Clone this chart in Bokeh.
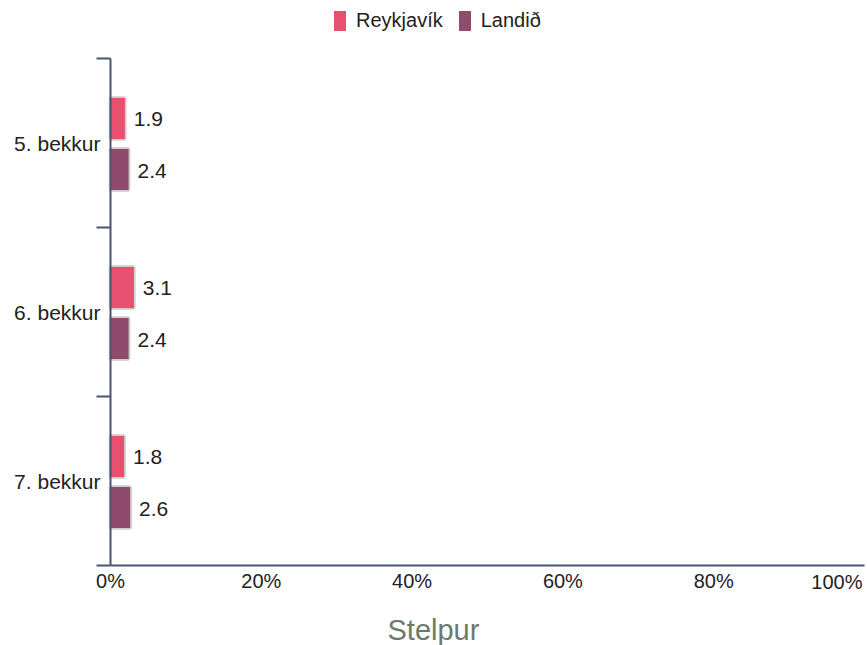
from bokeh.plotting import figure
from bokeh.models import (ColumnDataSource, FixedTicker, Range1d, Legend, LegendItem,
                          LabelSet, Label, Title)
from bokeh.core.properties import value
from bokeh.embed import file_html
from bokeh.resources import INLINE

categories = ["5. bekkur", "6. bekkur", "7. bekkur"]
reykjavik = [1.9, 3.1, 1.8]
landid = [2.4, 2.4, 2.6]
x_ticks = [0, 20, 40, 60, 80, 100]
x_tick_labels = ["0%", "20%", "40%", "60%", "80%", "100%"]
series_names = ["Reykjavík", "Landið"]
series_colors = ["#E94F6F", "#8E4B6D"]
title_text = "Stelpur"

FONT = "Liberation Sans"
AXIS_COLOR = "#4a5275"
TEXT = "#222222"
n = len(categories)
centers = [n - 0.5 - i for i in range(n)]
OFF_R = 0.145
OFF_L = -0.157
H = 0.243

# ---- layout in pixels (whole canvas is the plotting frame, axes are pinned at 0)
W, HGT = 867, 645
TITLE_H = 34
FRAME_BOTTOM = HGT - TITLE_H        # canvas y of frame bottom
AX_X0, AX_X1 = 110, 864             # canvas x of 0 % and 100 %
AX_Y0, AX_Y1 = 565, 58              # canvas y of the bottom and the top of the y axis
kx = (AX_X1 - AX_X0) / 100.0
ky = (AX_Y0 - AX_Y1) / n
x_start = -AX_X0 / kx
x_end = 100 + (W - AX_X1) / kx
y_start = -(FRAME_BOTTOM - AX_Y0) / ky
y_end = n + AX_Y1 / ky

p = figure(width=W, height=HGT, output_backend="svg", toolbar_location=None,
           x_range=Range1d(x_start, x_end), y_range=Range1d(y_start, y_end),
           min_border_left=0, min_border_right=0, min_border_top=0,
           min_border_bottom=TITLE_H)
p.outline_line_color = None
p.xgrid.visible = False
p.ygrid.visible = False

renderers = []
for vals, off, col in [(reykjavik, OFF_R, series_colors[0]),
                       (landid, OFF_L, series_colors[1])]:
    src = ColumnDataSource(dict(y=[c + off for c in centers], right=vals,
                                txt=[f"{v:.1f}" for v in vals]))
    p.hbar(y="y", left=0, right="right", height=H, source=src,
           fill_color=None, line_color="#cccccc", line_width=3.5)
    r = p.hbar(y="y", left=0, right="right", height=H, source=src,
               fill_color=col, line_color=None)
    renderers.append(r)
    p.add_layout(LabelSet(x="right", y="y", text="txt", source=src, x_offset=9,
                          y_offset=-1, text_baseline="middle", text_font=value(FONT),
                          text_font_size="21px", text_color=TEXT))

# x axis, drawn at y = 0
xa = p.xaxis[0]
xa.fixed_location = 0
xa.bounds = (0, 100)
xa.ticker = FixedTicker(ticks=x_ticks)
xa.major_label_overrides = {t: (l if t != 100 else "") for t, l in zip(x_ticks, x_tick_labels)}
xa.major_tick_out = 0
xa.major_tick_in = 0
xa.minor_tick_out = 0
xa.minor_tick_in = 0
xa.axis_line_color = AXIS_COLOR
xa.axis_line_width = 2
xa.major_label_text_font = FONT
xa.major_label_text_font_size = "20px"
xa.major_label_text_color = TEXT
xa.major_label_standoff = 4

# last tick label kept inside the chart, right-aligned to its tick
p.add_layout(Label(x=x_ticks[-1], y=0, text=x_tick_labels[-1], x_offset=-2, y_offset=-5,
                   text_align="right", text_baseline="top",
                   text_font=FONT, text_font_size="20px", text_color=TEXT))

p.add_layout(Title(text=title_text, align="left", offset=387, standoff=0,
                   text_font=FONT, text_font_size="29px",
                   text_font_style="normal", text_color="#6b7a6b"), "below")

# y axis, drawn at x = 0
ya = p.yaxis[0]
ya.fixed_location = 0
ya.bounds = (0, n)
ya.ticker = FixedTicker(ticks=centers, minor_ticks=[float(i) for i in range(n + 1)])
ya.major_label_overrides = {c: cat for c, cat in zip(centers, categories)}
ya.major_tick_out = 0
ya.major_tick_in = 0
ya.minor_tick_out = 14
ya.minor_tick_in = 0
ya.minor_tick_line_color = AXIS_COLOR
ya.minor_tick_line_width = 2
ya.axis_line_color = AXIS_COLOR
ya.axis_line_width = 2
ya.major_label_text_font = FONT
ya.major_label_text_font_size = "21px"
ya.major_label_text_color = TEXT
ya.major_label_standoff = -4

legend = Legend(items=[LegendItem(label=series_names[i], renderers=[renderers[i]])
                       for i in range(2)],
                orientation="horizontal", location=(332, FRAME_BOTTOM - 33),
                glyph_width=15, glyph_height=25, label_standoff=9, spacing=14,
                padding=0, margin=0, border_line_color=None,
                background_fill_alpha=0, label_text_font=FONT,
                label_text_font_size="20px", label_text_color=TEXT)
p.add_layout(legend, "center")

open("out.html", "w").write(file_html(p, INLINE))
